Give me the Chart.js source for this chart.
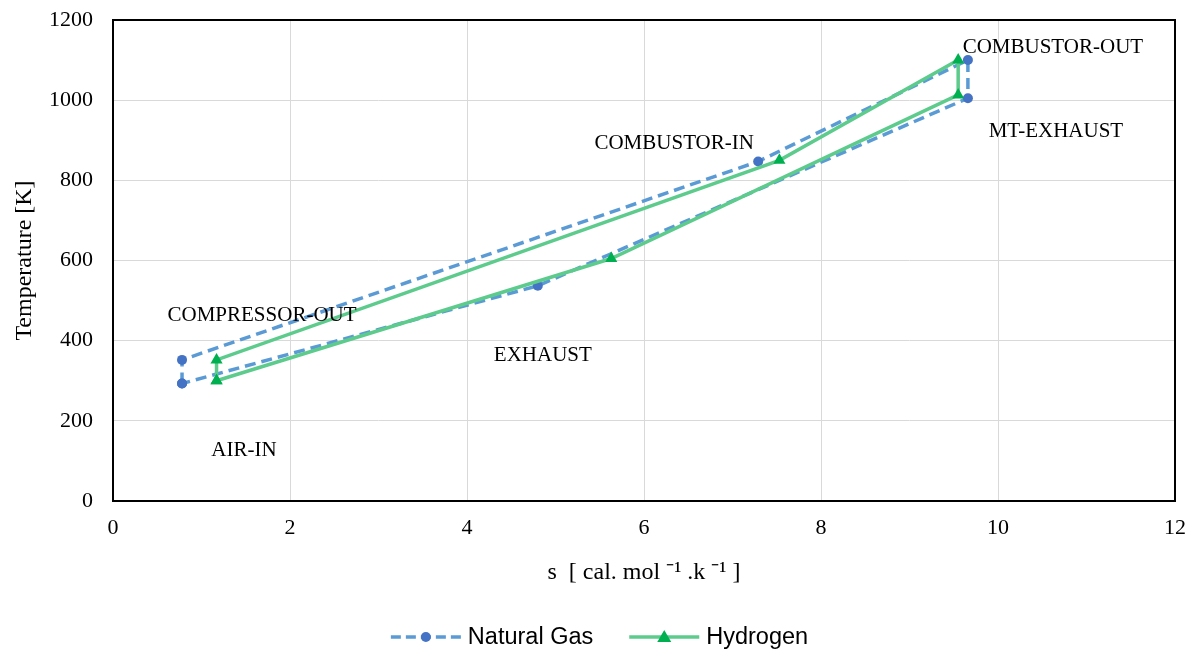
<!DOCTYPE html>
<html>
<head>
<meta charset="utf-8">
<script src="https://cdn.jsdelivr.net/npm/chart.js@4/dist/chart.umd.min.js"></script>
<style>
  html, body { margin: 0; padding: 0; background: #fff; }
  #wrap { width: 1199px; height: 654px; position: relative; }
</style>
</head>
<body>
<div id="wrap"><canvas id="c" width="1199" height="654"></canvas></div>
<script>
// Cycle states (same order for both fuels, loop closed back to AIR-IN)
const stateNames = ['AIR-IN', 'COMPRESSOR-OUT', 'COMBUSTOR-IN', 'COMBUSTOR-OUT', 'MT-EXHAUST', 'EXHAUST'];

// Natural Gas: entropy s and temperature T
const ngEntropy = [0.78, 0.78, 7.29, 9.66, 9.66, 4.80, 0.78];
const ngTemp    = [293, 352, 847, 1100, 1005, 537, 293];

// Hydrogen: entropy s and temperature T
const h2Entropy = [1.17, 1.17, 7.53, 9.55, 9.55, 5.63, 1.17];
const h2Temp    = [300, 352, 850, 1100, 1013, 605, 300];

const xTicks = [0, 2, 4, 6, 8, 10, 12];
const yTicks = [0, 200, 400, 600, 800, 1000, 1200];

const seriesNames = ['Natural Gas', 'Hydrogen'];

const toPoints = (xs, ys) => xs.map((x, i) => ({ x: x, y: ys[i] }));

const NG_LINE = '#5b9bd5', NG_MARK = '#4472c4';
const H2_LINE = '#5ccb8c', H2_MARK = '#00b050';

// Frame around plot area
const framePlugin = {
  id: 'frame',
  beforeDatasetsDraw(chart) {
    const a = chart.chartArea, ctx = chart.ctx;
    ctx.save();
    ctx.strokeStyle = '#000';
    ctx.lineWidth = 2;
    ctx.strokeRect(a.left, a.top, a.right - a.left, a.bottom - a.top);
    ctx.restore();
  }
};

// State labels placed relative to the Natural Gas points
const labelOffsets = [[62, 67], [80, -44], [-84, -18], [85, -13], [88, 33], [5, 70]];
const labelPlugin = {
  id: 'stateLabels',
  afterDatasetsDraw(chart) {
    const meta = chart.getDatasetMeta(1);
    const ctx = chart.ctx;
    ctx.save();
    ctx.font = '21px "Liberation Serif", "Times New Roman", serif';
    ctx.fillStyle = '#000';
    ctx.textAlign = 'center';
    ctx.textBaseline = 'middle';
    stateNames.forEach((name, i) => {
      const el = meta.data[i];
      ctx.fillText(name, el.x + labelOffsets[i][0], el.y + labelOffsets[i][1]);
    });
    ctx.restore();
  }
};

// Legend with line + marker samples
const legendPlugin = {
  id: 'customLegend',
  afterDraw(chart) {
    const ctx = chart.ctx;
    ctx.save();
    ctx.font = '23.5px "Liberation Sans", Arial, sans-serif';
    const lineLen = 70, gapTxt = 7, gapItem = 36;
    const items = [
      { name: seriesNames[0], line: NG_LINE, mark: NG_MARK, dash: [10, 5], style: 'circle' },
      { name: seriesNames[1], line: H2_LINE, mark: H2_MARK, dash: [], style: 'triangle' }
    ];
    const widths = items.map(it => lineLen + gapTxt + ctx.measureText(it.name).width);
    const total = widths.reduce((a, b) => a + b, 0) + gapItem * (items.length - 1);
    let x = (chart.width - total) / 2;
    const y = 637;
    items.forEach((it, i) => {
      ctx.strokeStyle = it.line;
      ctx.lineWidth = 3.5;
      ctx.setLineDash(it.dash);
      ctx.beginPath();
      ctx.moveTo(x, y);
      ctx.lineTo(x + lineLen, y);
      ctx.stroke();
      ctx.setLineDash([]);
      ctx.fillStyle = it.mark;
      ctx.beginPath();
      const cx = x + lineLen / 2;
      if (it.style === 'circle') {
        ctx.arc(cx, y, 5, 0, Math.PI * 2);
      } else {
        ctx.moveTo(cx, y - 7);
        ctx.lineTo(cx + 7, y + 5);
        ctx.lineTo(cx - 7, y + 5);
        ctx.closePath();
      }
      ctx.fill();
      ctx.fillStyle = '#000';
      ctx.textAlign = 'left';
      ctx.textBaseline = 'middle';
      ctx.fillText(it.name, x + lineLen + gapTxt, y + 1);
      x += widths[i] + gapItem;
    });
    ctx.restore();
  }
};

const serif = '"Liberation Serif", "Times New Roman", serif';

new Chart(document.getElementById('c'), {
  type: 'scatter',
  data: {
    datasets: [
      {
        label: seriesNames[1],
        data: toPoints(h2Entropy, h2Temp),
        showLine: true,
        borderColor: H2_LINE,
        borderWidth: 3.5,
        pointStyle: 'triangle',
        pointRadius: 7,
        pointBackgroundColor: H2_MARK,
        pointBorderColor: H2_MARK,
        pointBorderWidth: 0,
        order: 0
      },
      {
        label: seriesNames[0],
        data: toPoints(ngEntropy, ngTemp),
        showLine: true,
        borderColor: NG_LINE,
        borderWidth: 3.5,
        borderDash: [11, 6],
        pointStyle: 'circle',
        pointRadius: 5,
        pointBackgroundColor: NG_MARK,
        pointBorderColor: NG_MARK,
        pointBorderWidth: 0,
        order: 1
      }
    ]
  },
  options: {
    responsive: false,
    animation: false,
    layout: { padding: { left: 0, top: 20, right: 24, bottom: 60 } },
    plugins: {
      legend: { display: false },
      tooltip: { enabled: false }
    },
    scales: {
      x: {
        type: 'linear',
        min: xTicks[0],
        max: xTicks[xTicks.length - 1],
        afterBuildTicks(scale) { scale.ticks = xTicks.map(v => ({ value: v })); },
        afterFit(scale) { scale.height = 93; scale.paddingLeft = 0; scale.paddingRight = 0; },
        grid: { color: '#d9d9d9', lineWidth: 1, drawTicks: false },
        border: { display: false },
        ticks: { padding: 14, color: '#000', font: { family: serif, size: 22 }, callback: v => String(v) },
        title: {
          display: true,
          text: 's  [ cal. mol \u207B\u00B9 .k \u207B\u00B9 ]',
          color: '#000',
          font: { family: serif, size: 24 },
          padding: { top: 0, bottom: 7 }
        }
      },
      y: {
        type: 'linear',
        min: yTicks[0],
        max: yTicks[yTicks.length - 1],
        afterBuildTicks(scale) { scale.ticks = yTicks.map(v => ({ value: v })); },
        afterFit(scale) { scale.width = 113; scale.paddingTop = 0; scale.paddingBottom = 0; },
        grid: { color: '#d9d9d9', lineWidth: 1, drawTicks: false },
        border: { display: false },
        ticks: { padding: 20, color: '#000', font: { family: serif, size: 22 }, callback: v => String(v) },
        title: {
          display: true,
          text: 'Temperature [K]',
          color: '#000',
          font: { family: serif, size: 24 },
          padding: { top: 10, bottom: 0 }
        }
      }
    }
  },
  plugins: [framePlugin, labelPlugin, legendPlugin]
});
</script>
</body>
</html>
